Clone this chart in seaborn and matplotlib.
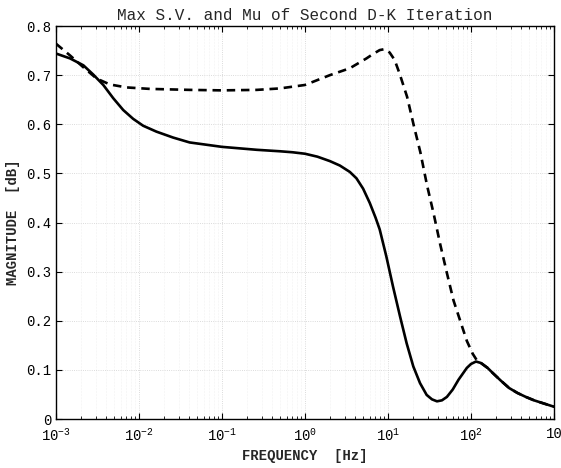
import numpy as np
import pandas as pd
import seaborn as sns
import matplotlib.pyplot as plt
from matplotlib.ticker import LogLocator, NullFormatter, FixedLocator

# exponents of frequency (log10 Hz)
sv_logf = [-3.0, -2.83, -2.67, -2.55, -2.43, -2.31, -2.19, -2.07, -1.95, -1.79,
           -1.59, -1.39, -1.0, -0.58, -0.30, -0.15, 0.0, 0.15, 0.30, 0.42,
           0.54, 0.62, 0.70, 0.78, 0.85, 0.90, 0.98, 1.06, 1.145, 1.225,
           1.305, 1.386, 1.466, 1.53, 1.59, 1.65, 1.71, 1.78, 1.85, 1.95,
           2.0, 2.06, 2.12, 2.2, 2.26, 2.36, 2.46, 2.56, 2.66, 2.76,
           2.87, 3.0]
sv_mag = [0.744, 0.734, 0.720, 0.701, 0.680, 0.653, 0.629, 0.611, 0.597, 0.585,
          0.573, 0.563, 0.554, 0.548, 0.545, 0.543, 0.540, 0.534, 0.525, 0.516,
          0.503, 0.490, 0.469, 0.440, 0.410, 0.386, 0.331, 0.270, 0.209, 0.154,
          0.107, 0.073, 0.049, 0.040, 0.036, 0.038, 0.045, 0.060, 0.080, 0.104,
          0.112, 0.117, 0.114, 0.104, 0.094, 0.078, 0.063, 0.053, 0.045, 0.038,
          0.032, 0.025]

mu_logf = [-3.0, -2.83, -2.67, -2.51, -2.35, -2.15, -1.87, -1.39, -1.0, -0.58,
           -0.30, 0.0, 0.30, 0.54, 0.74, 0.82, 0.90, 0.96, 1.02, 1.08,
           1.14, 1.23, 1.31, 1.39, 1.47, 1.55, 1.63, 1.71, 1.79, 1.87,
           1.95, 2.02, 2.08, 2.12, 2.2, 2.26, 2.36, 2.46, 2.56, 2.66,
           2.76, 2.87, 3.0]
mu_mag = [0.764, 0.740, 0.716, 0.693, 0.681, 0.675, 0.672, 0.670, 0.669, 0.670,
          0.673, 0.680, 0.700, 0.714, 0.734, 0.743, 0.751, 0.753, 0.746, 0.731,
          0.703, 0.656, 0.598, 0.543, 0.476, 0.418, 0.355, 0.297, 0.241, 0.200,
          0.159, 0.133, 0.117, 0.114, 0.104, 0.094, 0.078, 0.063, 0.053, 0.045,
          0.038, 0.032, 0.025]

xtick_labels = [r'$10^{-3}$', r'$10^{-2}$', r'$10^{-1}$', r'$10^{0}$',
                r'$10^{1}$', r'$10^{2}$', '10']
ytick_labels = ['0', '0.1', '0.2', '0.3', '0.4', '0.5', '0.6', '0.7', '0.8']

sv = pd.DataFrame({'freq': 10 ** np.array(sv_logf), 'mag': sv_mag})
mu = pd.DataFrame({'freq': 10 ** np.array(mu_logf), 'mag': mu_mag})

sns.set_style('ticks')
plt.rcParams['font.family'] = ['Liberation Mono', 'DejaVu Sans']
plt.rcParams['mathtext.fontset'] = 'custom'
plt.rcParams['mathtext.rm'] = 'Liberation Mono'
plt.rcParams['mathtext.it'] = 'Liberation Mono'

fig = plt.figure(figsize=(5.61, 4.68), dpi=100)
ax = fig.add_axes([0.0998, 0.1047, 0.8877, 0.8397])

sns.lineplot(data=sv, x='freq', y='mag', ax=ax, color='black', lw=1.9, sort=False)
sns.lineplot(data=mu, x='freq', y='mag', ax=ax, color='black', lw=1.9,
             linestyle=(0, (3.2, 2.2)), sort=False)

ax.set_xscale('log')
ax.set_xlim(1e-3, 1e3)
ax.set_ylim(0, 0.8)

ax.xaxis.set_major_locator(FixedLocator([1e-3, 1e-2, 1e-1, 1, 10, 100, 1000]))
ax.set_xticklabels(xtick_labels)
ax.xaxis.set_minor_locator(LogLocator(base=10, subs=np.arange(2, 10), numticks=20))
ax.xaxis.set_minor_formatter(NullFormatter())
ax.set_yticks(np.arange(0, 0.81, 0.1))
ax.set_yticklabels(ytick_labels)

ax.tick_params(which='both', direction='in', top=True, right=True,
               labelsize=10, colors='black')
ax.tick_params(which='major', length=4, width=0.8)
ax.tick_params(which='minor', length=2, width=0.6)
ax.tick_params(axis='x', pad=6)

ax.grid(True, which='major', ls=':', lw=0.6, color='#cfcfcf')
ax.grid(True, which='minor', axis='x', ls=':', lw=0.4, color='#e6e6e6')
for s in ax.spines.values():
    s.set_linewidth(1.0)
    s.set_color('black')

ax.set_title('Max S.V. and Mu of Second D-K Iteration', fontsize=11.5, pad=4)
ax.set_xlabel('FREQUENCY  [Hz]', fontsize=10, fontweight='bold')
ax.set_ylabel('MAGNITUDE  [dB]', fontsize=10, fontweight='bold')

fig.savefig('out.png', dpi=100)
